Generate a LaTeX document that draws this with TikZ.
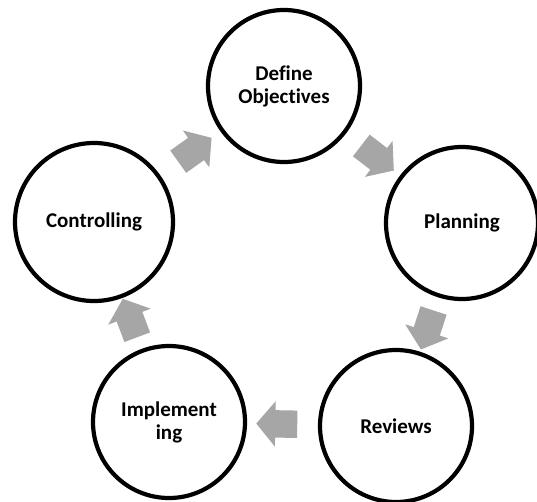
\documentclass[tikz,border=0pt]{standalone}
\usepackage{fontspec}
\setmainfont[Ligatures=NoCommon]{Carlito}
\usetikzlibrary{shapes.arrows,calc}
\definecolor{arrowgray}{HTML}{A6A6A6}
\begin{document}
\begin{tikzpicture}[x=1pt,y=-1pt,
  stage/.style={circle, draw=black, line width=4.2pt, fill=white,
    minimum size=152pt, inner sep=0pt, align=center,
    font=\fontsize{21}{23}\selectfont\bfseries},
  cyclearrow/.style={single arrow, fill=arrowgray, draw=none,
    minimum height=41pt, inner xsep=0pt, inner ysep=13.5pt,
    single arrow head extend=9pt, single arrow tip angle=100,
    sloped, allow upside down}]
\useasboundingbox[fill=white] (0,0) rectangle (537,501);
\node[stage] (def) at (284,86) {Define\\Objectives};
\node[stage] (plan) at (462,223) {Planning};
\node[stage] (rev) at (396,426) {Reviews};
\node[stage] (imp) at (169,422) {Implement\\ing};
\node[stage, minimum size=158pt] (ctrl) at (94,222) {Controlling};
\path (ctrl) -- node[cyclearrow] (a1) {} (def);
\path (def) -- node[cyclearrow] (a2) {} (plan);
\path (plan) -- node[cyclearrow] (a3) {} (rev);
\path (rev) -- node[cyclearrow] (a4) {} (imp);
\path (imp) -- node[cyclearrow] (a5) {} (ctrl);
\end{tikzpicture}
\end{document}
